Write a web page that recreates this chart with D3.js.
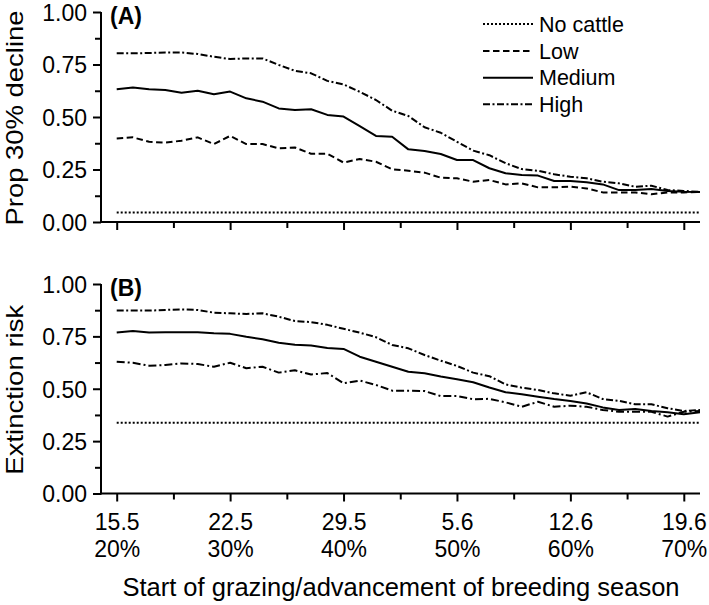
<!DOCTYPE html>
<html><head><meta charset="utf-8">
<script src="https://cdn.jsdelivr.net/npm/d3@7"></script>
<style>body{margin:0;background:#fff}svg{display:block;font-family:"Liberation Sans",Arial,sans-serif}</style>
</head><body><svg id="c" width="709" height="605"></svg>
<script>
// day index 0 = 15 May
const days = [0,1,2,3,4,5,6,7,8,9,10,11,12,13,14,15,16,17,18,19,20,21,22,23,24,25,26,27,28,29,30,31,32,33,34,35,36];
const majorTicks = [0,7,14,21,28,35];
const minorTicks = [3.5,10.5,17.5,24.5,31.5];
const dateLabels = ["15.5","22.5","29.5","5.6","12.6","19.6"];
const pctLabels = ["20%","30%","40%","50%","60%","70%"];
const yMajor = [0,0.25,0.5,0.75,1];
const yMinor = [0.125,0.375,0.625,0.875];
const seriesNames = ["No cattle","Low","Medium","High"];

// Panel A: proportion with 30% decline
const propNone = [0.045,0.045,0.045,0.045,0.045,0.045,0.045,0.045,0.045,0.045,0.045,0.045,0.045,0.045,0.045,0.045,0.045,0.045,0.045,0.045,0.045,0.045,0.045,0.045,0.045,0.045,0.045,0.045,0.045,0.045,0.045,0.045,0.045,0.045,0.045,0.045,0.045];
const propLow = [0.398,0.403,0.382,0.378,0.387,0.403,0.371,0.41,0.371,0.371,0.351,0.355,0.325,0.325,0.283,0.3,0.287,0.251,0.244,0.235,0.211,0.208,0.192,0.2,0.179,0.184,0.165,0.165,0.168,0.16,0.141,0.141,0.141,0.132,0.141,0.141,0.143];
const propMedium = [0.632,0.641,0.632,0.629,0.616,0.625,0.608,0.621,0.589,0.573,0.541,0.533,0.537,0.51,0.502,0.457,0.41,0.406,0.346,0.338,0.324,0.295,0.295,0.256,0.232,0.224,0.221,0.195,0.195,0.189,0.179,0.152,0.152,0.157,0.148,0.144,0.143];
const propHigh = [0.803,0.803,0.805,0.807,0.807,0.80,0.787,0.776,0.779,0.779,0.748,0.72,0.708,0.672,0.655,0.62,0.581,0.53,0.505,0.451,0.425,0.382,0.34,0.318,0.28,0.252,0.244,0.227,0.216,0.208,0.192,0.184,0.168,0.173,0.152,0.148,0.143];

// Panel B: extinction risk
const extNone = [0.338,0.338,0.338,0.338,0.338,0.338,0.338,0.338,0.338,0.338,0.338,0.338,0.338,0.338,0.338,0.338,0.338,0.338,0.338,0.338,0.338,0.338,0.338,0.338,0.338,0.338,0.338,0.338,0.338,0.338,0.338,0.338,0.338,0.338,0.338,0.338,0.338];
const extLow = [0.629,0.624,0.61,0.613,0.621,0.618,0.605,0.624,0.598,0.605,0.577,0.588,0.568,0.575,0.526,0.539,0.518,0.491,0.491,0.489,0.465,0.465,0.45,0.452,0.435,0.414,0.438,0.414,0.419,0.414,0.399,0.39,0.39,0.39,0.367,0.39,0.394];
const extMedium = [0.768,0.776,0.768,0.77,0.77,0.77,0.765,0.762,0.748,0.736,0.72,0.71,0.706,0.695,0.69,0.653,0.629,0.605,0.581,0.574,0.558,0.545,0.531,0.506,0.483,0.474,0.462,0.451,0.442,0.43,0.411,0.399,0.403,0.394,0.388,0.378,0.388];
const extHigh = [0.873,0.873,0.873,0.876,0.879,0.876,0.863,0.86,0.857,0.86,0.844,0.823,0.818,0.805,0.786,0.768,0.746,0.709,0.693,0.661,0.634,0.609,0.577,0.56,0.521,0.505,0.494,0.478,0.467,0.483,0.451,0.442,0.426,0.426,0.407,0.394,0.399];

const dashA = {"No cattle":"2,2","Low":"6.5,3.5","Medium":null,"High":"7,2.5,2,2.5"};
const dashB = {"No cattle":"2,2","Low":"8,3,2,3","Medium":null,"High":"7,2.5,2,2.5"};

const svg = d3.select("#c");
const x = d3.scaleLinear().domain([-1,36]).range([100.5,700]);

const panels = [
  {label:"(A)", title:"Prop 30% decline", titleLen:215, y:d3.scaleLinear().domain([0,1]).range([222,12]),
   data:[propNone,propLow,propMedium,propHigh], dash:dashA, xlabels:false},
  {label:"(B)", title:"Extinction risk", titleLen:170, y:d3.scaleLinear().domain([0,1]).range([493.5,284]),
   data:[extNone,extLow,extMedium,extHigh], dash:dashB, xlabels:true}
];

panels.forEach(p => {
  const y = p.y;
  const g = svg.append("g");
  g.append("g").attr("transform",`translate(${x(-1)+0.5},0)`)
    .call(d3.axisLeft(y).tickValues(yMinor).tickSize(6).tickSizeOuter(0).tickFormat(""))
    .call(a=>a.select(".domain").remove())
    .selectAll("line").attr("stroke","#000").attr("stroke-width",2);
  const ya = g.append("g").attr("transform",`translate(${x(-1)+0.5},0)`)
    .call(d3.axisLeft(y).tickValues(yMajor).tickSize(8).tickPadding(6).tickSizeOuter(0).tickFormat(d3.format(".2f")));
  ya.select(".domain").remove();
  ya.selectAll("line").attr("stroke","#000").attr("stroke-width",2);
  ya.selectAll("text").attr("font-size",23).attr("font-family","Liberation Sans, Arial, sans-serif").attr("fill","#000").attr("dy","0.36em");
  g.append("g").attr("transform",`translate(0,${y(0)})`)
    .call(d3.axisBottom(x).tickValues(minorTicks).tickSize(6).tickSizeOuter(0).tickFormat(""))
    .call(a=>a.select(".domain").remove())
    .selectAll("line").attr("stroke","#000").attr("stroke-width",2);
  const xa = g.append("g").attr("transform",`translate(0,${y(0)})`)
    .call(d3.axisBottom(x).tickValues(majorTicks).tickSize(8).tickSizeOuter(0).tickFormat(""));
  xa.select(".domain").remove();
  xa.selectAll("line").attr("stroke","#000").attr("stroke-width",2);
  if (p.xlabels) {
    xa.selectAll(".tick text").remove();
    xa.selectAll(".tick").append("text")
      .attr("text-anchor","middle").attr("font-size",23).attr("fill","#000")
      .attr("font-family","Liberation Sans, Arial, sans-serif")
      .each(function(d,i){
        const t = d3.select(this);
        t.append("tspan").attr("x",0).attr("y",36.5).text(dateLabels[i]);
        t.append("tspan").attr("x",0).attr("y",63).text(pctLabels[i]);
      });
  }
  g.append("line").attr("x1",x(-1)+0.5).attr("x2",x(-1)+0.5).attr("y1",y(1)).attr("y2",y(0)+1)
    .attr("stroke","#000").attr("stroke-width",2);
  g.append("line").attr("x1",x(-1)-0.5).attr("x2",x(36)).attr("y1",y(0)).attr("y2",y(0))
    .attr("stroke","#000").attr("stroke-width",2);
  const line = d3.line().x((d,i)=>x(days[i])).y(d=>y(d));
  p.data.forEach((s,k)=>{
    g.append("path").datum(s).attr("d",line).attr("fill","none").attr("stroke","#000")
      .attr("stroke-width",2).attr("stroke-linejoin","round")
      .attr("stroke-dasharray",p.dash[seriesNames[k]]);
  });
  g.append("text").attr("x",110).attr("y",y(1)+12).attr("font-size",23).attr("font-weight","bold").text(p.label);
  const cy = (y(0)+y(1))/2;
  const half = p.titleLen/2;
  g.append("text").attr("transform",`translate(23,${cy+1}) rotate(-90)`)
    .attr("x",-half).attr("text-anchor","start")
    .attr("textLength",p.titleLen).attr("lengthAdjust","spacingAndGlyphs")
    .attr("font-size",24).text(p.title);
});

const legY = [24,51,77.7,104.3];
const leg = svg.append("g");
seriesNames.forEach((n,i)=>{
  leg.append("line").attr("x1",483).attr("x2",533).attr("y1",legY[i]).attr("y2",legY[i])
    .attr("stroke","#000").attr("stroke-width",2).attr("stroke-dasharray",dashA[n]);
  leg.append("text").attr("x",539).attr("y",legY[i]+7.7).attr("font-size",21.5).text(n);
});

svg.append("text").attr("x",401).attr("y",596).attr("text-anchor","middle").attr("font-size",25.5)
  .text("Start of grazing/advancement of breeding season");
</script></body></html>
